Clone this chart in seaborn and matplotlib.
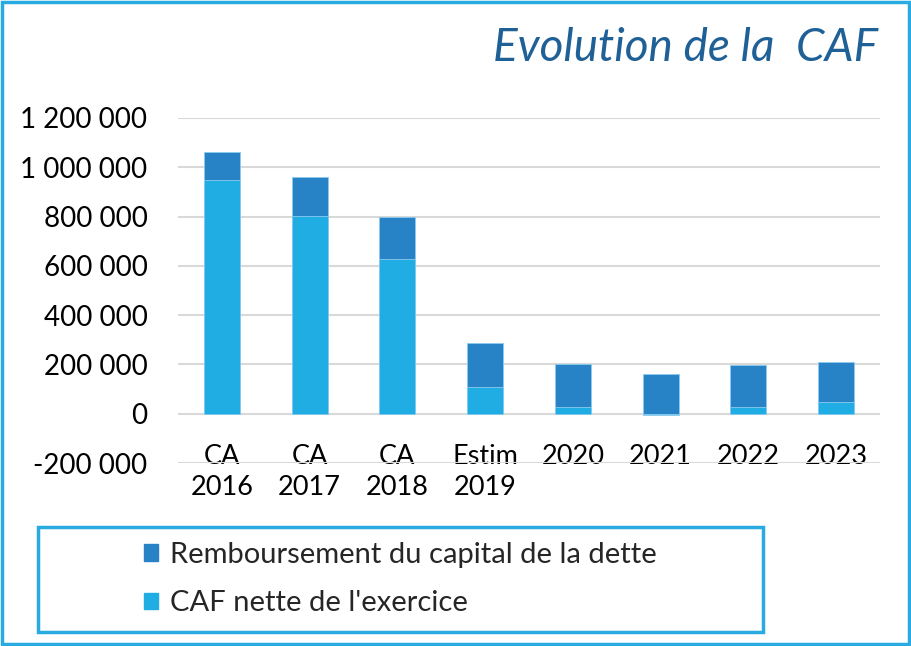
import numpy as np
import pandas as pd
import matplotlib
matplotlib.use("Agg")
import matplotlib.pyplot as plt
import seaborn as sns
from matplotlib.patches import Rectangle, Patch

# données
categories = ["CA\n2016", "CA\n2017", "CA\n2018", "Estim\n2019", "2020", "2021", "2022", "2023"]
caf_nette = [948000, 803000, 629000, 109000, 29000, -5000, 26000, 46500]
remboursement = [112000, 157000, 170000, 176000, 174000, 163000, 171000, 163500]
yticks = [-200000, 0, 200000, 400000, 600000, 800000, 1000000, 1200000]

col_caf = "#1FADE4"
col_remb = "#2782C6"
col_cadre = "#29ABE2"

sns.set_theme(style="white")
plt.rcParams["font.family"] = ["Lato", "DejaVu Sans"]

df = pd.DataFrame({"cat": categories, "caf": caf_nette, "remb": remboursement})
df["haut"] = df["caf"].clip(lower=0) + df["remb"]

fig = plt.figure(figsize=(9.11, 6.46), dpi=100)
ax = fig.add_axes([178 / 911, 1 - 463 / 646, 702 / 911, 345 / 646])

# barres empilées : total d'abord, puis la CAF par dessus
sns.barplot(data=df, x="cat", y="haut", color=col_remb, width=0.41, saturation=1,
            edgecolor="#8CCBEF", linewidth=0.6, ax=ax, zorder=3)
sns.barplot(data=df, x="cat", y="caf", color=col_caf, width=0.41, saturation=1,
            edgecolor="#8CCBEF", linewidth=0.6, ax=ax, zorder=4)

ax.set_xlim(-0.5, len(categories) - 0.5)
ax.set_ylim(-200000, 1200000)
ax.set_yticks(yticks)
ax.set_yticklabels([f"{v:,}".replace(",", " ") for v in yticks])
ax.set_xlabel("")
ax.set_ylabel("")
for v in yticks:
    ax.axhline(v, color="#D9D9D9", lw=1.5, zorder=1)
for s in ax.spines.values():
    s.set_visible(False)
ax.tick_params(axis="y", length=0, pad=22, labelsize=20, labelcolor="black")
ax.tick_params(axis="x", length=0, pad=-14, labelsize=19.5, labelcolor="black")
for lab in ax.get_xticklabels():
    lab.set_linespacing(1.3)
    lab.set_verticalalignment("top")

fig.text(878 / 911, 1 - 48 / 646, "Evolution de la  CAF", ha="right", va="center",
         fontsize=33, style="italic", color="#1F6096")

# cadre de la légende
fig.patches.append(Rectangle((38 / 911, 1 - 632 / 646), 725 / 911, 105 / 646,
                             transform=fig.transFigure, fill=False,
                             edgecolor=col_cadre, lw=2.5))
handles = [Patch(color=col_remb, label="Remboursement du capital de la dette"),
           Patch(color=col_caf, label="CAF nette de l'exercice")]
fig.legend(handles=handles, loc="upper left", bbox_to_anchor=(132 / 911, 1 - 530 / 646),
           frameon=False, fontsize=21, handlelength=0.5, handleheight=0.5,
           handletextpad=0.4, labelspacing=0.78, borderaxespad=0)

# cadre extérieur
fig.patches.append(Rectangle((0.002, 0.003), 0.996, 0.994, transform=fig.transFigure,
                             fill=False, edgecolor=col_cadre, lw=2.5))

fig.savefig("out.png", dpi=100)
